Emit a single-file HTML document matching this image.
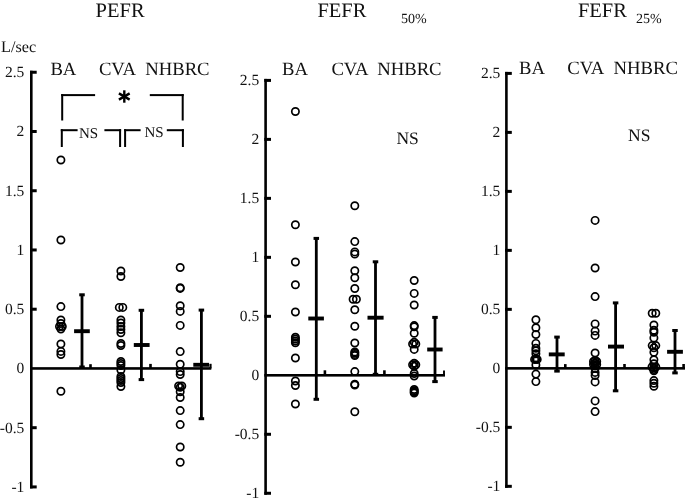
<!DOCTYPE html>
<html><head><meta charset="utf-8"><style>
html,body{margin:0;padding:0;background:#fff;width:685px;height:502px;overflow:hidden}
svg{display:block}
text{font-family:"Liberation Serif", serif;fill:#111;text-rendering:geometricPrecision}
svg{will-change:transform}
</style></head><body>
<svg width="685" height="502" viewBox="0 0 685 502">
<rect width="685" height="502" fill="#fff"/>
<g fill="#000">
<rect x="30.0" y="70.75" width="2.6" height="417.68"/>
<rect x="30.0" y="70.75" width="6.7" height="3.0"/>
<text x="24.3" y="77.15" font-size="15.5" text-anchor="end" >2.5</text>
<rect x="30.0" y="129.99" width="6.7" height="3.0"/>
<text x="24.3" y="136.39000000000001" font-size="15.5" text-anchor="end" >2</text>
<rect x="30.0" y="189.23000000000002" width="6.7" height="3.0"/>
<text x="24.3" y="195.63000000000002" font-size="15.5" text-anchor="end" >1.5</text>
<rect x="30.0" y="248.47" width="6.7" height="3.0"/>
<text x="24.3" y="254.87" font-size="15.5" text-anchor="end" >1</text>
<rect x="30.0" y="307.71000000000004" width="6.7" height="3.0"/>
<text x="24.3" y="314.11" font-size="15.5" text-anchor="end" >0.5</text>
<text x="24.3" y="373.34999999999997" font-size="15.5" text-anchor="end" >0</text>
<rect x="30.0" y="426.19" width="6.7" height="3.0"/>
<text x="24.3" y="432.59" font-size="15.5" text-anchor="end" >-0.5</text>
<rect x="30.0" y="485.43" width="6.7" height="3.0"/>
<text x="24.3" y="491.83" font-size="15.5" text-anchor="end" >-1</text>
<rect x="30.0" y="367.15" width="181.3" height="2.6"/>
<text x="1.1" y="51.8" font-size="16.2" text-anchor="start" >L/sec</text>
<text x="120.1" y="17.1" font-size="20.5" text-anchor="middle" >PEFR</text>
<text x="50.4" y="75.1" font-size="18.7" text-anchor="start" >BA</text>
<text x="98.9" y="75.1" font-size="18.7" text-anchor="start" >CVA</text>
<text x="145.2" y="75.1" font-size="18.7" text-anchor="start" >NHBRC</text>
<rect x="61.2" y="94.1" width="33.89999999999999" height="2.0"/>
<rect x="61.2" y="94.1" width="2.0" height="26.400000000000006"/>
<rect x="149.8" y="94.1" width="33.89999999999998" height="2.0"/>
<rect x="181.7" y="94.1" width="2.0" height="26.400000000000006"/>
<line x1="124.30" y1="90.30" x2="124.30" y2="102.70" stroke="#000" stroke-width="2.4"/>
<line x1="118.93" y1="93.40" x2="129.67" y2="99.60" stroke="#000" stroke-width="2.4"/>
<line x1="118.93" y1="99.60" x2="129.67" y2="93.40" stroke="#000" stroke-width="2.4"/>
<rect x="60.8" y="129.2" width="16.799999999999997" height="2.0"/>
<rect x="60.8" y="129.2" width="2.0" height="17.80000000000001"/>
<text x="88.6" y="138.3" font-size="15" text-anchor="middle" >NS</text>
<rect x="104.4" y="129.2" width="16.69999999999999" height="2.0"/>
<rect x="119.1" y="129.2" width="2.0" height="17.80000000000001"/>
<rect x="124.1" y="129.2" width="16.5" height="2.0"/>
<rect x="124.1" y="129.2" width="2.0" height="17.80000000000001"/>
<text x="154.1" y="136.8" font-size="15" text-anchor="middle" >NS</text>
<rect x="166.8" y="129.2" width="17.099999999999994" height="2.0"/>
<rect x="181.9" y="129.2" width="2.0" height="17.80000000000001"/>
<rect x="80.6" y="294.8" width="2.8" height="72.19999999999999"/>
<rect x="79.25" y="293.3" width="5.5" height="3.0"/>
<rect x="79.25" y="365.5" width="5.5" height="3.0"/>
<rect x="74.1" y="329.25" width="15.700000000000003" height="3.9"/>
<rect x="89.2" y="364.2" width="2.6" height="4.25"/>
<rect x="140.0" y="310.3" width="2.8" height="69.30000000000001"/>
<rect x="138.65" y="308.8" width="5.5" height="3.0"/>
<rect x="138.65" y="378.1" width="5.5" height="3.0"/>
<rect x="133.8" y="343.05" width="15.799999999999983" height="3.9"/>
<rect x="149.2" y="363.9" width="2.6" height="4.550000000000011"/>
<rect x="200.0" y="310.1" width="2.8" height="108.59999999999997"/>
<rect x="198.65" y="308.6" width="5.5" height="3.0"/>
<rect x="198.65" y="417.2" width="5.5" height="3.0"/>
<rect x="193.3" y="362.85" width="15.699999999999989" height="3.9"/>
<rect x="209.4" y="363.8" width="2.2" height="4.649999999999977"/>
<rect x="264.3" y="78.9" width="2.6" height="415.86"/>
<rect x="264.3" y="78.9" width="6.7" height="3.0"/>
<text x="259.2" y="85.30000000000001" font-size="15.5" text-anchor="end" >2.5</text>
<rect x="264.3" y="137.88" width="6.7" height="3.0"/>
<text x="259.2" y="144.28" font-size="15.5" text-anchor="end" >2</text>
<rect x="264.3" y="196.86" width="6.7" height="3.0"/>
<text x="259.2" y="203.26000000000002" font-size="15.5" text-anchor="end" >1.5</text>
<rect x="264.3" y="255.84000000000003" width="6.7" height="3.0"/>
<text x="259.2" y="262.24" font-size="15.5" text-anchor="end" >1</text>
<rect x="264.3" y="314.82" width="6.7" height="3.0"/>
<text x="259.2" y="321.21999999999997" font-size="15.5" text-anchor="end" >0.5</text>
<text x="259.2" y="380.19999999999993" font-size="15.5" text-anchor="end" >0</text>
<rect x="264.3" y="432.78" width="6.7" height="3.0"/>
<text x="259.2" y="439.17999999999995" font-size="15.5" text-anchor="end" >-0.5</text>
<rect x="264.3" y="491.76" width="6.7" height="3.0"/>
<text x="259.2" y="498.15999999999997" font-size="15.5" text-anchor="end" >-1</text>
<rect x="264.3" y="373.99999999999994" width="180.7" height="2.6"/>
<text x="341.9" y="17.4" font-size="20.5" text-anchor="middle" >FEFR</text>
<text x="400.9" y="22.9" font-size="14" text-anchor="start" >50%</text>
<text x="282.0" y="74.8" font-size="18.7" text-anchor="start" >BA</text>
<text x="331.4" y="74.8" font-size="18.7" text-anchor="start" >CVA</text>
<text x="377.2" y="74.8" font-size="18.7" text-anchor="start" >NHBRC</text>
<text x="407.6" y="143.6" font-size="17.5" text-anchor="middle" >NS</text>
<rect x="314.90000000000003" y="238.4" width="2.8" height="160.9"/>
<rect x="313.55" y="236.9" width="5.5" height="3.0"/>
<rect x="313.55" y="397.8" width="5.5" height="3.0"/>
<rect x="308.3" y="316.55" width="15.599999999999966" height="3.9"/>
<rect x="323.59999999999997" y="370.3" width="2.6" height="4.999999999999943"/>
<rect x="374.1" y="261.8" width="2.8" height="112.5"/>
<rect x="372.75" y="260.3" width="5.5" height="3.0"/>
<rect x="372.75" y="372.8" width="5.5" height="3.0"/>
<rect x="367.5" y="315.75" width="16.100000000000023" height="3.9"/>
<rect x="383.09999999999997" y="370.3" width="2.6" height="4.999999999999943"/>
<rect x="433.6" y="317.4" width="2.8" height="64.20000000000005"/>
<rect x="432.25" y="315.9" width="5.5" height="3.0"/>
<rect x="432.25" y="380.1" width="5.5" height="3.0"/>
<rect x="427.2" y="347.55" width="15.400000000000034" height="3.9"/>
<rect x="443.05" y="370.5" width="1.9" height="4.7999999999999545"/>
<rect x="505.09999999999997" y="71.9" width="2.6" height="415.93000000000006"/>
<rect x="505.09999999999997" y="71.9" width="6.7" height="3.0"/>
<text x="500.3" y="78.30000000000001" font-size="15.5" text-anchor="end" >2.5</text>
<rect x="505.09999999999997" y="130.89000000000001" width="6.7" height="3.0"/>
<text x="500.3" y="137.29000000000002" font-size="15.5" text-anchor="end" >2</text>
<rect x="505.09999999999997" y="189.88" width="6.7" height="3.0"/>
<text x="500.3" y="196.28" font-size="15.5" text-anchor="end" >1.5</text>
<rect x="505.09999999999997" y="248.87" width="6.7" height="3.0"/>
<text x="500.3" y="255.27" font-size="15.5" text-anchor="end" >1</text>
<rect x="505.09999999999997" y="307.86" width="6.7" height="3.0"/>
<text x="500.3" y="314.26" font-size="15.5" text-anchor="end" >0.5</text>
<text x="500.3" y="373.25" font-size="15.5" text-anchor="end" >0</text>
<rect x="505.09999999999997" y="425.84000000000003" width="6.7" height="3.0"/>
<text x="500.3" y="432.24" font-size="15.5" text-anchor="end" >-0.5</text>
<rect x="505.09999999999997" y="484.83000000000004" width="6.7" height="3.0"/>
<text x="500.3" y="491.23" font-size="15.5" text-anchor="end" >-1</text>
<rect x="505.09999999999997" y="367.05" width="180.40000000000003" height="2.6"/>
<text x="602.4" y="17.1" font-size="20.5" text-anchor="middle" >FEFR</text>
<text x="635.9" y="22.9" font-size="14" text-anchor="start" >25%</text>
<text x="519.0" y="73.8" font-size="18.7" text-anchor="start" >BA</text>
<text x="567.2" y="73.8" font-size="18.7" text-anchor="start" >CVA</text>
<text x="613.5" y="73.8" font-size="18.7" text-anchor="start" >NHBRC</text>
<text x="639.2" y="140.8" font-size="17.5" text-anchor="middle" >NS</text>
<rect x="555.6" y="337.1" width="2.8" height="34.0"/>
<rect x="554.25" y="335.6" width="5.5" height="3.0"/>
<rect x="554.25" y="369.6" width="5.5" height="3.0"/>
<rect x="548.8" y="352.45" width="15.900000000000091" height="3.9"/>
<rect x="564.0" y="364.1" width="2.6" height="4.25"/>
<rect x="614.2" y="302.9" width="2.8" height="87.90000000000003"/>
<rect x="612.85" y="301.4" width="5.5" height="3.0"/>
<rect x="612.85" y="389.3" width="5.5" height="3.0"/>
<rect x="608" y="344.65000000000003" width="16" height="3.9"/>
<rect x="623.2" y="364" width="2.6" height="4.350000000000023"/>
<rect x="673.6" y="330.5" width="2.8" height="42.39999999999998"/>
<rect x="672.25" y="329.0" width="5.5" height="3.0"/>
<rect x="672.25" y="371.4" width="5.5" height="3.0"/>
<rect x="667.1" y="349.85" width="15.799999999999955" height="3.9"/>
<rect x="682.3000000000001" y="364" width="2.6" height="4.350000000000023"/>
</g>
<g fill="none" stroke="#000" stroke-width="1.7">
<circle cx="60.9" cy="160" r="3.65"/>
<circle cx="60.9" cy="240" r="3.65"/>
<circle cx="60.9" cy="306.6" r="3.65"/>
<circle cx="60.9" cy="320" r="3.65"/>
<circle cx="60.9" cy="323.5" r="3.65"/>
<circle cx="60.9" cy="329" r="3.65"/>
<circle cx="60.9" cy="344" r="3.65"/>
<circle cx="60.9" cy="351.4" r="3.65"/>
<circle cx="60.9" cy="354.5" r="3.65"/>
<circle cx="60.9" cy="391.2" r="3.65"/>
<circle cx="59.5" cy="326.5" r="3.65"/>
<circle cx="62.3" cy="326.5" r="3.65"/>
<circle cx="120.9" cy="271" r="3.65"/>
<circle cx="120.9" cy="276.5" r="3.65"/>
<circle cx="120.9" cy="320" r="3.65"/>
<circle cx="120.9" cy="323" r="3.65"/>
<circle cx="120.9" cy="326.5" r="3.65"/>
<circle cx="120.9" cy="329.5" r="3.65"/>
<circle cx="120.9" cy="332.7" r="3.65"/>
<circle cx="120.9" cy="343.5" r="3.65"/>
<circle cx="120.9" cy="345.5" r="3.65"/>
<circle cx="120.9" cy="361.5" r="3.65"/>
<circle cx="120.9" cy="363.5" r="3.65"/>
<circle cx="120.9" cy="365.5" r="3.65"/>
<circle cx="120.9" cy="370" r="3.65"/>
<circle cx="120.9" cy="376.5" r="3.65"/>
<circle cx="120.9" cy="378.5" r="3.65"/>
<circle cx="120.9" cy="380.5" r="3.65"/>
<circle cx="120.9" cy="382.5" r="3.65"/>
<circle cx="120.9" cy="386.5" r="3.65"/>
<circle cx="119.3" cy="307.4" r="3.65"/>
<circle cx="122.8" cy="307.4" r="3.65"/>
<circle cx="180.2" cy="267.5" r="3.65"/>
<circle cx="180.2" cy="287.8" r="3.65"/>
<circle cx="180.2" cy="288.4" r="3.65"/>
<circle cx="180.2" cy="305.8" r="3.65"/>
<circle cx="180.2" cy="311.4" r="3.65"/>
<circle cx="180.2" cy="325.4" r="3.65"/>
<circle cx="180.2" cy="351.6" r="3.65"/>
<circle cx="180.2" cy="364.2" r="3.65"/>
<circle cx="180.2" cy="371.6" r="3.65"/>
<circle cx="180.2" cy="374.5" r="3.65"/>
<circle cx="180.2" cy="387.2" r="3.65"/>
<circle cx="180.2" cy="391.8" r="3.65"/>
<circle cx="180.2" cy="397.5" r="3.65"/>
<circle cx="180.2" cy="410.6" r="3.65"/>
<circle cx="180.2" cy="424.6" r="3.65"/>
<circle cx="180.2" cy="447" r="3.65"/>
<circle cx="180.2" cy="462.3" r="3.65"/>
<circle cx="178.6" cy="386.0" r="3.65"/>
<circle cx="181.8" cy="386.0" r="3.65"/>
<circle cx="295.4" cy="111.5" r="3.65"/>
<circle cx="295.4" cy="224.7" r="3.65"/>
<circle cx="295.4" cy="262" r="3.65"/>
<circle cx="295.4" cy="284.8" r="3.65"/>
<circle cx="295.4" cy="312" r="3.65"/>
<circle cx="295.4" cy="337.2" r="3.65"/>
<circle cx="295.4" cy="339.1" r="3.65"/>
<circle cx="295.4" cy="341" r="3.65"/>
<circle cx="295.4" cy="342.8" r="3.65"/>
<circle cx="295.4" cy="358" r="3.65"/>
<circle cx="295.4" cy="381" r="3.65"/>
<circle cx="295.4" cy="385.5" r="3.65"/>
<circle cx="295.4" cy="404" r="3.65"/>
<circle cx="354.8" cy="205.8" r="3.65"/>
<circle cx="354.8" cy="241.6" r="3.65"/>
<circle cx="354.8" cy="251.9" r="3.65"/>
<circle cx="354.8" cy="254.1" r="3.65"/>
<circle cx="354.8" cy="270.8" r="3.65"/>
<circle cx="354.8" cy="277.8" r="3.65"/>
<circle cx="354.8" cy="288.5" r="3.65"/>
<circle cx="354.8" cy="309.7" r="3.65"/>
<circle cx="354.8" cy="326.2" r="3.65"/>
<circle cx="354.8" cy="343" r="3.65"/>
<circle cx="354.8" cy="351.9" r="3.65"/>
<circle cx="354.8" cy="353.1" r="3.65"/>
<circle cx="354.8" cy="354.4" r="3.65"/>
<circle cx="354.8" cy="355.6" r="3.65"/>
<circle cx="354.8" cy="371.6" r="3.65"/>
<circle cx="354.8" cy="384.2" r="3.65"/>
<circle cx="354.8" cy="385" r="3.65"/>
<circle cx="354.8" cy="411.7" r="3.65"/>
<circle cx="353.1" cy="299.2" r="3.65"/>
<circle cx="356.4" cy="299.2" r="3.65"/>
<circle cx="414.2" cy="280.5" r="3.65"/>
<circle cx="414.2" cy="293.4" r="3.65"/>
<circle cx="414.2" cy="305" r="3.65"/>
<circle cx="414.2" cy="325.6" r="3.65"/>
<circle cx="414.2" cy="326.8" r="3.65"/>
<circle cx="414.2" cy="333.3" r="3.65"/>
<circle cx="414.2" cy="342.3" r="3.65"/>
<circle cx="414.2" cy="349.4" r="3.65"/>
<circle cx="414.2" cy="363.3" r="3.65"/>
<circle cx="414.2" cy="366.2" r="3.65"/>
<circle cx="414.2" cy="373.5" r="3.65"/>
<circle cx="414.2" cy="376" r="3.65"/>
<circle cx="414.2" cy="389.5" r="3.65"/>
<circle cx="414.2" cy="390.7" r="3.65"/>
<circle cx="414.2" cy="391.9" r="3.65"/>
<circle cx="414.2" cy="393" r="3.65"/>
<circle cx="412.6" cy="344" r="3.65"/>
<circle cx="415.8" cy="344" r="3.65"/>
<circle cx="412.6" cy="364.7" r="3.65"/>
<circle cx="415.8" cy="364.7" r="3.65"/>
<circle cx="535.9" cy="319.7" r="3.65"/>
<circle cx="535.9" cy="327.7" r="3.65"/>
<circle cx="535.9" cy="334.5" r="3.65"/>
<circle cx="535.9" cy="343.4" r="3.65"/>
<circle cx="535.9" cy="348.2" r="3.65"/>
<circle cx="535.9" cy="350.8" r="3.65"/>
<circle cx="535.9" cy="353.8" r="3.65"/>
<circle cx="535.9" cy="359.3" r="3.65"/>
<circle cx="535.9" cy="365" r="3.65"/>
<circle cx="535.9" cy="374.1" r="3.65"/>
<circle cx="535.9" cy="381.6" r="3.65"/>
<circle cx="534.6" cy="359.4" r="3.65"/>
<circle cx="537.2" cy="359.4" r="3.65"/>
<circle cx="595.1" cy="220.4" r="3.65"/>
<circle cx="595.1" cy="268" r="3.65"/>
<circle cx="595.1" cy="296.6" r="3.65"/>
<circle cx="595.1" cy="323.9" r="3.65"/>
<circle cx="595.1" cy="331.1" r="3.65"/>
<circle cx="595.1" cy="335.4" r="3.65"/>
<circle cx="595.1" cy="353" r="3.65"/>
<circle cx="595.1" cy="360.5" r="3.65"/>
<circle cx="595.1" cy="363" r="3.65"/>
<circle cx="595.1" cy="366" r="3.65"/>
<circle cx="595.1" cy="368.5" r="3.65"/>
<circle cx="595.1" cy="372.4" r="3.65"/>
<circle cx="595.1" cy="375.5" r="3.65"/>
<circle cx="595.1" cy="381.9" r="3.65"/>
<circle cx="595.1" cy="400.9" r="3.65"/>
<circle cx="595.1" cy="411.6" r="3.65"/>
<circle cx="593.5" cy="361.5" r="3.65"/>
<circle cx="596.7" cy="361.5" r="3.65"/>
<circle cx="593.5" cy="364.5" r="3.65"/>
<circle cx="596.7" cy="364.5" r="3.65"/>
<circle cx="653.9" cy="325" r="3.65"/>
<circle cx="653.9" cy="330.3" r="3.65"/>
<circle cx="653.9" cy="332.2" r="3.65"/>
<circle cx="653.9" cy="337.9" r="3.65"/>
<circle cx="653.9" cy="347.8" r="3.65"/>
<circle cx="653.9" cy="352.2" r="3.65"/>
<circle cx="653.9" cy="359.8" r="3.65"/>
<circle cx="653.9" cy="363.7" r="3.65"/>
<circle cx="653.9" cy="367.7" r="3.65"/>
<circle cx="653.9" cy="370.7" r="3.65"/>
<circle cx="653.9" cy="380.6" r="3.65"/>
<circle cx="653.9" cy="383.3" r="3.65"/>
<circle cx="653.9" cy="386.3" r="3.65"/>
<circle cx="652.2" cy="313.3" r="3.65"/>
<circle cx="655.8" cy="313.3" r="3.65"/>
<circle cx="652.2" cy="345.6" r="3.65"/>
<circle cx="655.8" cy="345.6" r="3.65"/>
<circle cx="652.0" cy="367.0" r="3.65"/>
<circle cx="655.8" cy="367.0" r="3.65"/>
<circle cx="653.9" cy="369.5" r="3.65"/>
</g>
</svg>
</body></html>
